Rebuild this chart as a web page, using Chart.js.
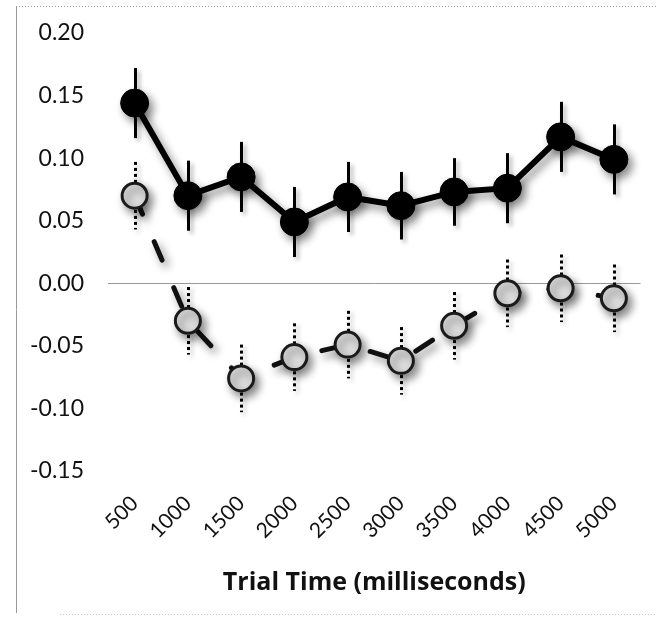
<!DOCTYPE html>
<html><head><meta charset="utf-8">
<script src="https://cdn.jsdelivr.net/npm/chart.js@4/dist/chart.umd.min.js"></script>
<style>html,body{margin:0;padding:0;background:#fff;}#wrap{width:656px;height:617px;}</style>
</head><body><div id="wrap"><canvas id="c" width="656" height="617"></canvas></div>
<script>
const categories = ['500','1000','1500','2000','2500','3000','3500','4000','4500','5000'];
const blackValues = [0.144, 0.070, 0.085, 0.049, 0.069, 0.062, 0.073, 0.076, 0.117, 0.099];
const blackErrors = [0.028, 0.028, 0.028, 0.028, 0.028, 0.027, 0.027, 0.028, 0.028, 0.028];
const grayValues = [0.070, -0.030, -0.076, -0.059, -0.049, -0.062, -0.034, -0.008, -0.004, -0.012];
const grayErrors = [0.027, 0.027, 0.027, 0.027, 0.027, 0.027, 0.027, 0.027, 0.027, 0.027];
const yTicks = [-0.15, -0.10, -0.05, 0.00, 0.05, 0.10, 0.15, 0.20];

const FONT = 'Lato, "DejaVu Sans", sans-serif';
const TITLE_FONT = '"Open Sans", Lato, sans-serif';

const frame = {
  id: 'frame',
  beforeDraw(chart) {
    const ctx = chart.ctx;
    ctx.save();
    ctx.fillStyle = '#fff';
    ctx.fillRect(0, 0, chart.width, chart.height);
    ctx.strokeStyle = '#999';
    ctx.lineWidth = 1;
    ctx.setLineDash([]);
    ctx.beginPath(); ctx.moveTo(16.5, 6); ctx.lineTo(16.5, 613); ctx.stroke();
    ctx.setLineDash([1, 2]);
    ctx.beginPath(); ctx.moveTo(16, 6.5); ctx.lineTo(656, 6.5); ctx.stroke();
    ctx.strokeStyle = '#ccc';
    ctx.beginPath(); ctx.moveTo(60, 614.5); ctx.lineTo(656, 614.5); ctx.stroke();
    ctx.restore();
  }
};

const shadow = {
  id: 'shadow',
  beforeDatasetDraw(chart) {
    const ctx = chart.ctx;
    ctx.save();
    ctx.shadowColor = 'rgba(0,0,0,0.45)';
    ctx.shadowBlur = 8;
    ctx.shadowOffsetX = 4;
    ctx.shadowOffsetY = 5;
  },
  afterDatasetDraw(chart) { chart.ctx.restore(); }
};

const errorBars = {
  id: 'errorBars',
  beforeDatasetsDraw(chart) {
    const ctx = chart.ctx;
    const x = chart.scales.x, y = chart.scales.y;
    const sets = [
      {vals: blackValues, errs: blackErrors, dash: [], w: 3},
      {vals: grayValues, errs: grayErrors, dash: [3, 3], w: 3}
    ];
    ctx.save();
    ctx.shadowColor = 'rgba(0,0,0,0.3)';
    ctx.shadowBlur = 4;
    ctx.shadowOffsetX = 3;
    ctx.shadowOffsetY = 3;
    sets.forEach(s => {
      ctx.strokeStyle = '#000';
      ctx.lineWidth = s.w;
      ctx.setLineDash(s.dash);
      s.vals.forEach((v, i) => {
        const px = Math.round(x.getPixelForValue(i)) + 0.5;
        ctx.beginPath();
        ctx.moveTo(px, y.getPixelForValue(v + s.errs[i]));
        ctx.lineTo(px, y.getPixelForValue(v - s.errs[i]));
        ctx.stroke();
      });
    });
    ctx.restore();
  }
};

new Chart(document.getElementById('c'), {
  type: 'line',
  data: {
    labels: categories,
    datasets: [
      {
        data: blackValues,
        borderColor: '#000',
        borderWidth: 6,
        backgroundColor: '#000',
        pointBackgroundColor: '#000',
        pointBorderColor: '#000',
        pointBorderWidth: 1,
        pointRadius: 14,
        tension: 0
      },
      {
        data: grayValues,
        borderColor: '#111',
        borderWidth: 5,
        borderDash: [20, 30],
        borderCapStyle: 'round',
        pointBackgroundColor: '#dcdcdc',
        pointBorderColor: '#1a1a1a',
        pointBorderWidth: 3,
        pointRadius: 12.5,
        tension: 0
      }
    ]
  },
  options: {
    responsive: false,
    animation: false,
    events: [],
    layout: { padding: { left: 20, right: 13, top: 33, bottom: 19 } },
    plugins: { legend: { display: false }, tooltip: { enabled: false } },
    scales: {
      x: {
        offset: true,
        grid: { display: false, drawTicks: false },
        border: { display: false },
        ticks: {
          color: '#111', font: { family: FONT, size: 21 },
          maxRotation: 45, minRotation: 45, padding: 20, autoSkip: false
        },
        title: {
          display: true, text: 'Trial Time (milliseconds)', color: '#111',
          font: { family: TITLE_FONT, size: 25, weight: 'bold' }, padding: { top: 4, bottom: 0 }
        },
        afterFit(s) { s.height = 127; }
      },
      y: {
        min: yTicks[0], max: yTicks[yTicks.length - 1],
        afterBuildTicks(s) { s.ticks = yTicks.map(v => ({ value: v })); },
        grid: {
          drawTicks: true,
          tickLength: 22,
          tickColor: 'rgba(0,0,0,0)',
          lineWidth: 1,
          color: c => (c.tick && Math.abs(c.tick.value) < 1e-9) ? '#999' : 'rgba(0,0,0,0)'
        },
        border: { display: false },
        ticks: {
          color: '#111', font: { family: FONT, size: 23 }, padding: 2,
          callback: v => Number(v).toFixed(2)
        },
        afterFit(s) { s.width = 88; }
      }
    }
  },
  plugins: [frame, shadow, errorBars]
});
</script>
</body></html>
